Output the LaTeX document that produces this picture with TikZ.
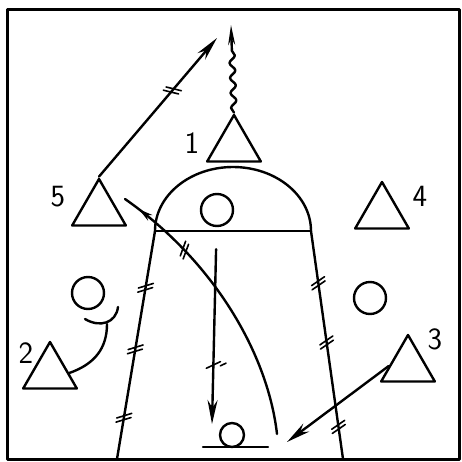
\documentclass[tikz,border=0pt]{standalone}
\usepackage{tikz}
\usetikzlibrary{arrows.meta,shapes.geometric,decorations.pathmorphing,decorations.markings}

\begin{document}
\begin{tikzpicture}[x=0.5mm,y=-0.5mm,
  line width=1.2mm,line cap=round,line join=round,
  player/.style={draw,regular polygon,regular polygon sides=3,minimum size=31mm,inner sep=0pt},
  spot/.style={draw,circle,minimum size=16mm,inner sep=0pt},
  num/.style={font=\sffamily\fontsize{44}{44}\selectfont},
  pass/.style={-{Stealth[length=12mm,width=5mm]}},
  dribble/.style={decorate,decoration={snake,amplitude=1.4mm,segment length=7.5mm,post length=10mm},
    -{Stealth[length=10mm,width=3.5mm]}},
  ticks/.style={postaction={decorate,decoration={markings,
    mark=at position #1 with {\draw[line width=0.8mm,-] (5pt,-10pt)--(-5pt,10pt) (11pt,-10pt)--(1pt,10pt);}}}},
  midarrow/.style={postaction={decorate,decoration={markings,
    mark=at position #1 with {\arrow{Stealth[length=7mm,width=3.5mm]}}}}}]
\useasboundingbox (0,0) rectangle (462,462);
\draw[line width=1.5mm] (7,9) rectangle (459,459);

% key and free throw circle
\coordinate (ftl) at (155,231);
\coordinate (ftr) at (311,231);
\coordinate (bl) at (117,459);
\coordinate (br) at (343,459);
\draw (ftl) -- (ftr);
\draw (ftl) arc[start angle=180,end angle=0,x radius=78,y radius=-64];
\draw[ticks=0.24,ticks=0.51,ticks=0.81] (ftl) -- (bl);
\draw[ticks=0.22,ticks=0.48,ticks=0.85] (ftr) -- (br);

% players
\node[player] (t1) at (234,146) {};
\node[player] (t5) at (99,210) {};
\node[player] (t4) at (382,213) {};
\node[player] (t2) at (50,373) {};
\node[player] (t3) at (408,366) {};
\node[num] (n1) at (192,143) {1};
\node[num] (n5) at (58,197) {5};
\node[num] (n4) at (420,196) {4};
\node[num] (n2) at (26,353) {2};
\node[num] (n3) at (435,339) {3};

\node[spot] (ckey) at (217,210) {};
\node[spot] (cleft) at (88,293) {};
\node[spot] (cright) at (370,298) {};
\node[spot,minimum size=12mm] (basket) at (232,435) {};
\coordinate (bbl) at (203,447);
\coordinate (bbr) at (268,447);
\draw (bbl) -- (bbr);

% moves
\coordinate (p5) at (217,38);
\coordinate (d1) at (231,25);
\coordinate (dn) at (212,424);
\coordinate (hp) at (287,442);
\coordinate (cb) at (277,434);
\coordinate (c5) at (125,199);
\coordinate (scr) at (107,324);
\coordinate (scrA) at (85,319);
\coordinate (scrB) at (118,307);
\draw[pass,ticks=0.61] (t5.corner 1) -- (p5);
\draw[dribble] (t1.corner 1) -- (d1);
\draw[pass,ticks=0.7,shorten <=11mm] (ckey) -- (dn);
\draw[pass] (t3.west) -- (hp);
\draw[ticks=0.72,midarrow=0.94] (cb) .. controls (268,355) and (215,262) .. (c5);
\draw (t2.east) .. controls (95,364) and (107,348) .. (scr);
\draw (scrA) .. controls (100,328) and (116,323) .. (scrB);
\end{tikzpicture}
\end{document}
